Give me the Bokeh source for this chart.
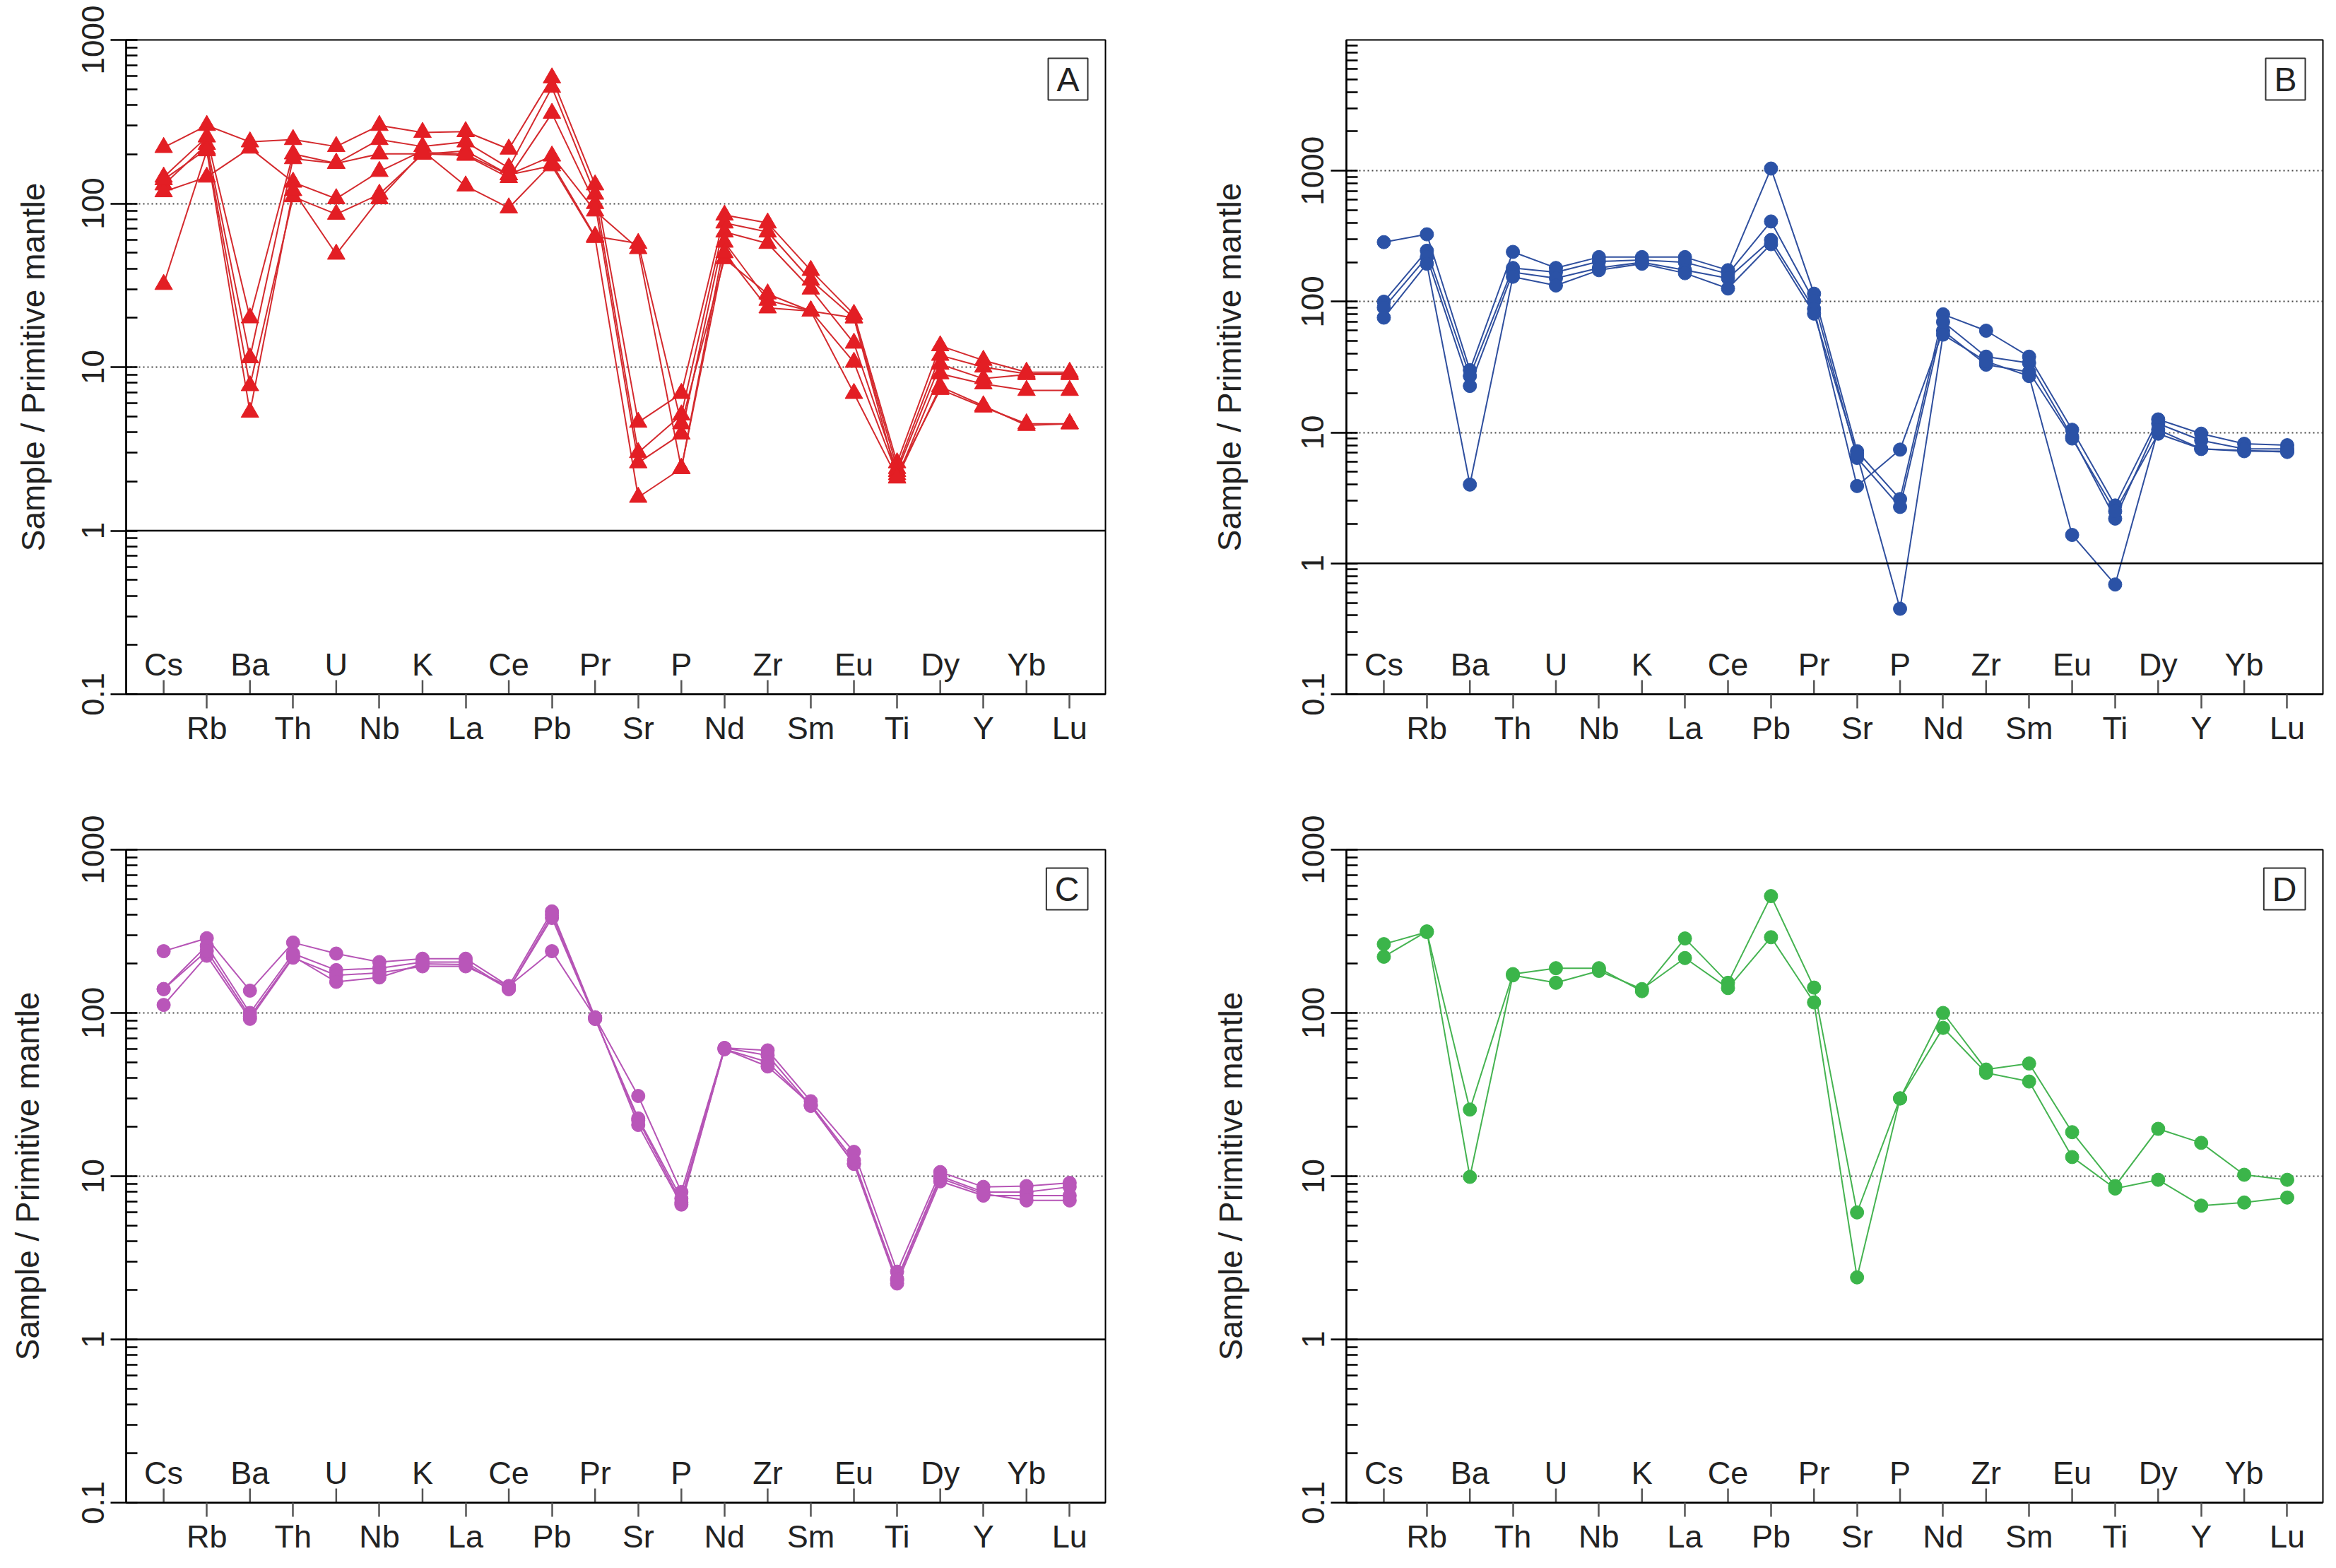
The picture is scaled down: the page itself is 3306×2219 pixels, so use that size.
import math
from bokeh.plotting import figure
from bokeh.models import Range1d, FixedTicker, Span, Label
from bokeh.layouts import column, row
from bokeh.embed import file_html
from bokeh.resources import INLINE
from bokeh.core.properties import value

elements = ["Cs", "Rb", "Ba", "Th", "U", "Nb", "K", "La", "Ce", "Pb", "Pr",
            "Sr", "P", "Nd", "Zr", "Sm", "Eu", "Ti", "Dy", "Y", "Yb", "Lu"]

y_tick_values = [0.1, 1, 10, 100, 1000]
y_tick_labels = ["0.1", "1", "10", "100", "1000"]

# Panel A (triangles, red)
a1 = [220, 300, 238, 246, 223, 300, 272, 275, 215, 586, 130, 4.6, 6.9, 85, 76, 39, 21, 2.6, 13.5, 11, 9.3, 9.3]
a2 = [145, 255, 20, 201, 176, 246, 223, 238, 165, 513, 114, 3.0, 5.1, 76, 67, 34, 20, 2.4, 11.8, 10, 9.1, 9.1]
a3 = [130, 230, 11.4, 188, 176, 201, 201, 197, 144, 356, 100, 2.6, 3.9, 67, 57, 30, 14, 2.3, 10.4, 8.5, 9.0, 9.0]
a4 = [118, 145, 218, 135, 107, 157, 210, 128, 94, 176, 63, 57, 4.5, 46, 28, 22, 10.7, 2.2, 7.3, 5.7, 4.5, 4.5]
a5 = [140, 215, 7.7, 110, 86, 114, 200, 210, 150, 195, 90, 53, 2.4, 58, 25.6, 22, 20, 2.1, 9.1, 7.9, 7.2, 7.2]
a6 = [32, 210, 5.3, 120, 49, 107, 205, 200, 150, 170, 62, 1.6, 2.4, 50, 23, 22, 6.9, 2.1, 7.6, 5.8, 4.4, 4.5]

# Panel B (circles, blue)
b1 = [285, 327, 30, 240, 181, 219, 219, 219, 174, 1040, 115, 7.2, 3.1, 80, 60, 38, 10.5, 2.77, 12.6, 9.8, 8.2, 8.0]
b2 = [100, 245, 27, 181, 168, 203, 208, 200, 163, 410, 101, 6.4, 2.7, 70, 38, 34, 9.3, 2.2, 11.7, 8.7, 7.5, 7.5]
b3 = [90, 219, 22.7, 168, 151, 181, 200, 174, 151, 296, 88, 3.9, 7.4, 60, 33, 29, 9.0, 2.5, 9.8, 7.5, 7.2, 7.2]
b4 = [75.5, 195, 4.0, 155, 133, 174, 195, 165, 126, 275, 81, 6.8, 0.45, 56, 35, 27, 1.65, 0.69, 10.5, 7.5, 7.3, 7.1]

# Panel C (circles, magenta)
c1 = [239, 287, 137, 270, 231, 205, 215, 215, 146, 419, 94, 31, 8.0, 61, 59, 28.8, 14.1, 2.6, 10.6, 8.6, 8.7, 9.1]
c2 = [140, 258, 100, 231, 183, 188, 205, 205, 140, 382, 92, 22.6, 7.3, 61, 55, 27, 11.9, 2.35, 10.0, 8.0, 8.0, 8.6]
c3 = [112, 224, 92, 218, 170, 176, 193, 193, 146, 239, 94, 20.6, 6.7, 60, 50, 27, 11.9, 2.2, 9.3, 7.6, 7.6, 7.6]
c4 = [140, 240, 95, 222, 155, 165, 200, 198, 140, 400, 92, 22, 6.9, 60, 47, 27.5, 12.5, 2.3, 9.7, 7.8, 7.1, 7.1]

# Panel D (circles, green)
d1 = [264, 313, 25.6, 173, 188, 188, 136, 286, 153, 520, 143, 6.0, 30, 100, 45, 49, 18.6, 8.7, 19.5, 16, 10.2, 9.5]
d2 = [221, 316, 9.9, 170, 153, 181, 140, 217, 142, 291, 116, 2.4, 29.9, 81, 43, 38, 13.1, 8.4, 9.5, 6.6, 6.9, 7.4]

FONT = "Liberation Sans"
X_START, X_END = -0.87, 21.83


def make_panel(series, fill, line, marker, msize, letter, ymax, width, height,
               bl, br, bt, bb, label_standoff):
    p = figure(width=width, height=height, y_axis_type="log",
               x_range=Range1d(X_START, X_END), y_range=Range1d(0.1, ymax),
               output_backend="svg", toolbar_location=None,
               min_border_left=bl, min_border_right=br,
               min_border_top=bt, min_border_bottom=bb)
    p.background_fill_color = "white"
    p.border_fill_color = "white"
    p.outline_line_color = "black"
    p.outline_line_width = 2
    p.xgrid.visible = False

    decades = math.log10(ymax) - math.log10(0.1)
    frame_h = height - bt - bb
    ppd = frame_h / decades

    # grid (dotted)
    grid_ticks = [10, 100] + ([1000] if ymax > 1000 else [])
    p.ygrid.ticker = FixedTicker(ticks=grid_ticks)
    p.ygrid.grid_line_color = "#444444"
    p.ygrid.grid_line_dash = "2 4"
    p.ygrid.grid_line_width = 2
    p.add_layout(Span(location=1, dimension="width", line_color="black", line_width=2.5))

    # y axis
    minors = []
    top_dec = int(round(math.log10(ymax)))
    for e in range(-1, top_dec):
        for m in range(2, 10):
            minors.append(m * 10 ** e)
    yax = p.yaxis[0]
    yax.ticker = FixedTicker(ticks=y_tick_values, minor_ticks=minors)
    yax.major_label_overrides = {v: s for v, s in zip(y_tick_values, y_tick_labels)}
    yax.major_label_orientation = "vertical"
    yax.major_label_text_font = FONT
    yax.major_label_text_font_size = "44px"
    yax.major_label_text_color = "#222222"
    yax.major_label_standoff = 10
    yax.major_tick_out = 22
    yax.major_tick_in = 16
    yax.minor_tick_out = 0
    yax.minor_tick_in = 16
    yax.major_tick_line_width = 2.5
    yax.minor_tick_line_width = 2.5
    yax.axis_line_width = 2.5
    yax.axis_label = "Sample / Primitive mantle"
    yax.axis_label_text_font = FONT
    yax.axis_label_text_font_style = "normal"
    yax.axis_label_text_font_size = "46px"
    yax.axis_label_text_color = "#222222"
    yax.axis_label_standoff = label_standoff

    # x axis: odd elements below the axis
    idx = list(range(len(elements)))
    odd = [i for i in idx if i % 2 == 1]
    even = [i for i in idx if i % 2 == 0]
    xax = p.xaxis[0]
    xax.ticker = FixedTicker(ticks=odd, minor_ticks=[])
    xax.major_label_overrides = {i: elements[i] for i in odd}
    xax.major_label_text_font = FONT
    xax.major_label_text_font_size = "45px"
    xax.major_label_text_color = "#222222"
    xax.major_label_standoff = 2
    xax.major_tick_out = 20
    xax.major_tick_in = 0
    xax.minor_tick_out = 0
    xax.minor_tick_in = 0
    xax.major_tick_line_color = "#555555"
    xax.major_tick_line_width = 2.5
    xax.axis_line_width = 2.5

    # even elements: inside ticks and labels above the axis
    tick_top = 0.1 * 10 ** (20 / ppd)
    p.segment(x0=even, y0=[0.1] * len(even), x1=even, y1=[tick_top] * len(even),
              line_color="#555555", line_width=2.5)
    p.text(x=even, y=[0.1] * len(even), text=[elements[i] for i in even],
           text_align="center", text_baseline="bottom", y_offset=-17,
           text_font=value(FONT), text_font_size="45px", text_color="#222222")

    for s in series:
        p.line(x=idx, y=s, line_color=line, line_width=2)
    for s in series:
        p.scatter(x=idx, y=s, marker=marker, size=msize,
                  fill_color=fill, line_color=fill, line_width=1)

    p.add_layout(Label(x=X_END, y=ymax, text=letter, text_align="right",
                       text_baseline="top", x_offset=-25, y_offset=-26,
                       text_font=FONT, text_font_size="48px", text_color="#222222",
                       border_line_color="#333333", border_line_width=2,
                       background_fill_color="white", padding=(12, 3)))
    return p


pa = make_panel([a1, a2, a3, a4, a5, a6], "#e31e24", "#d42a2e", "triangle", 25, "A",
                1000, 1645, 1100, 178, 81, 56, 118, 40)
pb = make_panel([b1, b2, b3, b4], "#2b52a6", "#2f4f9e", "circle", 19, "B",
                10000, 1645, 1100, 260, 3, 56, 118, 74)
pc = make_panel([c1, c2, c3, c4], "#b956b9", "#b655b6", "circle", 19, "C",
                1000, 1645, 1102, 178, 81, 102, 74, 48)
pd_ = make_panel([d1, d2], "#3bb54a", "#45b351", "circle", 19, "D",
                 1000, 1645, 1102, 260, 3, 102, 74, 72)

layout = column(row(pa, pb), row(pc, pd_))

with open("out.html", "w") as f:
    f.write(file_html(layout, INLINE))
